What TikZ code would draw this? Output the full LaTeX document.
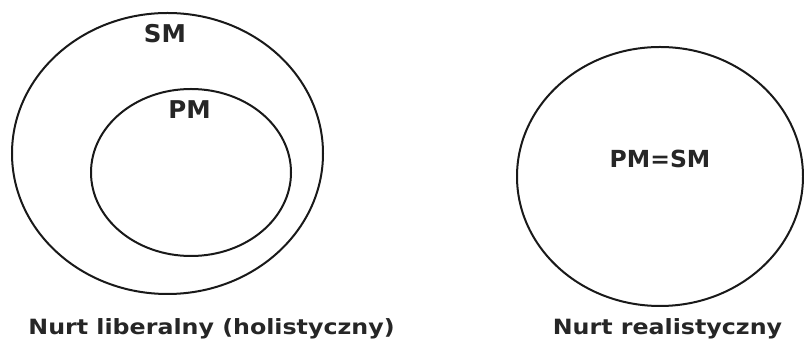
\documentclass[tikz,border=0pt]{standalone}
\usepackage{fontspec}
\setmainfont{DejaVu Sans}
\newfontfamily\setfont{DejaVu Sans Bold}
\newfontfamily\lblfont[FakeStretch=1.13]{DejaVu Sans Bold}
\usetikzlibrary{shapes.geometric}
\begin{document}
\begin{tikzpicture}[x=1pt,y=1pt,
  setellipse/.style={ellipse, draw=black!90, line width=2pt, inner sep=0pt},
  setlabel/.style={anchor=base, inner sep=0pt, text=black!85, font=\setfont\fontsize{24.5}{28}\selectfont},
  caption/.style={anchor=base, inner sep=0pt, text=black!85, font=\lblfont\fontsize{21}{25}\selectfont}]
\useasboundingbox (0,0) rectangle (804,342);
\node[setellipse, minimum width=311pt, minimum height=281pt] (sm) at (167.5,188.5) {};
\node[setellipse, minimum width=200pt, minimum height=167pt] (pm) at (191,169.5) {};
\node[setellipse, minimum width=286pt, minimum height=259pt] (eq) at (660,165.5) {};
\node[setlabel] (smt) at (165,299) {SM};
\node[setlabel] (pmt) at (189.5,223) {PM};
\node[setlabel, font=\setfont\fontsize{23.5}{28}\selectfont] (eqt) at (660,174) {PM=SM};
\node[caption] (c1) at (211.5,7) {Nurt liberalny (holistyczny)};
\node[caption] (c2) at (667.5,7) {Nurt realistyczny};
\end{tikzpicture}
\end{document}
